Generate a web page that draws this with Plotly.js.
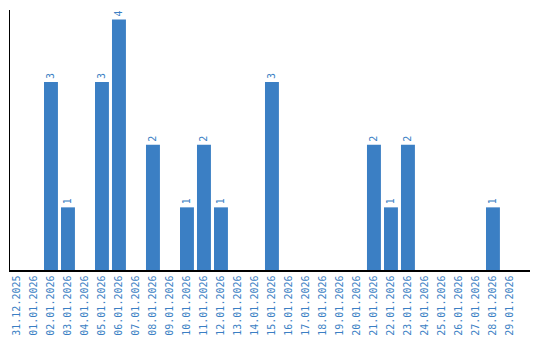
<!DOCTYPE html>
<html><head><meta charset="utf-8">
<script src="https://cdn.plot.ly/plotly-3.0.1.min.js"></script>
<style>html,body{margin:0;padding:0;background:#fff}</style>
</head><body>
<div id="chart" style="width:540px;height:340px"></div>
<script>
var dates = ["31.12.2025","01.01.2026","02.01.2026","03.01.2026","04.01.2026","05.01.2026","06.01.2026","07.01.2026","08.01.2026","09.01.2026","10.01.2026","11.01.2026","12.01.2026","13.01.2026","14.01.2026","15.01.2026","16.01.2026","17.01.2026","18.01.2026","19.01.2026","20.01.2026","21.01.2026","22.01.2026","23.01.2026","24.01.2026","25.01.2026","26.01.2026","27.01.2026","28.01.2026","29.01.2026"];
var counts = [0,0,3,1,0,3,4,0,2,0,1,2,1,0,0,3,0,0,0,0,0,2,1,2,0,0,0,0,1,0];
var labels = counts.map(function(v){return v>0?String(v):"";});
var blue = "#3b7fc4";
Plotly.newPlot("chart",[{
  type:"bar", x:dates, y:counts, text:labels, textposition:"outside", textangle:-90,
  cliponaxis:false,
  textfont:{family:"DejaVu Sans Mono", size:10, color:blue},
  marker:{color:blue}, hoverinfo:"none"
}],{
  width:540, height:340,
  margin:{l:10,r:10,t:10,b:70},
  bargap:0.18,
  showlegend:false,
  paper_bgcolor:"#fff", plot_bgcolor:"#fff",
  xaxis:{type:"category", range:[-0.41,30.18], showline:true, linecolor:"#000", linewidth:1.5,
    tickangle:-90, tickfont:{family:"DejaVu Sans Mono", size:10, color:blue}, ticks:"", showgrid:false, zeroline:false, fixedrange:true},
  yaxis:{range:[0,4.15], showline:true, linecolor:"#000", linewidth:1.5, showticklabels:false, ticks:"", showgrid:false, zeroline:false}
},{staticPlot:true});
</script>
</body></html>
